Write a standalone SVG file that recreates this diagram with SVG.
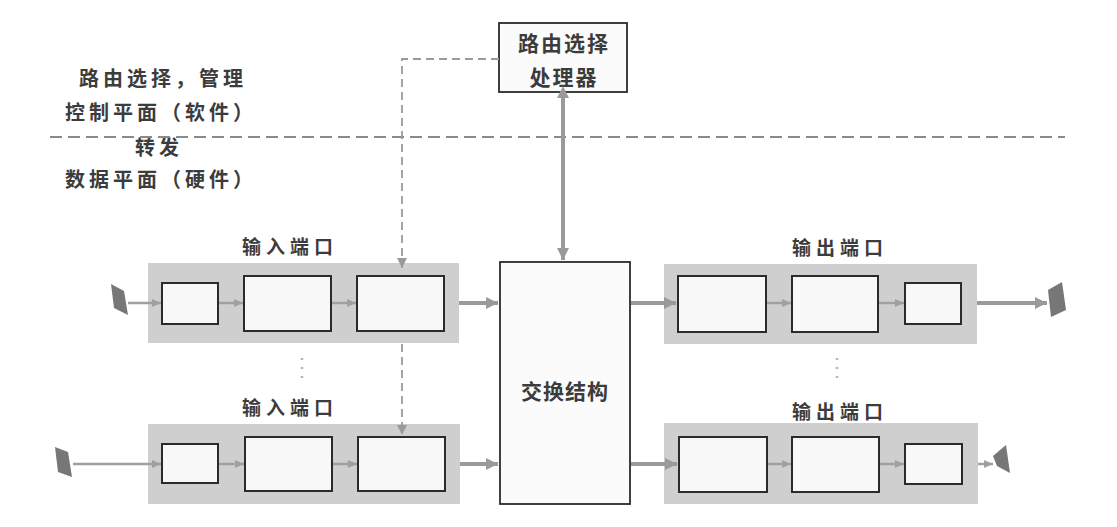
<svg xmlns="http://www.w3.org/2000/svg" width="1117" height="527" viewBox="0 0 1117 527">
<style>
.bg{fill:#ffffff}
.band{fill:#cfcfcf}
.box{fill:#f8f8f8;stroke:#2b2b2b;stroke-width:2}
.frame{fill:#fbfbfb;stroke:#2b2b2b;stroke-width:1.8}
.plug{fill:#777777}
.t{font-family:"Noto Sans CJK SC","Noto Sans",sans-serif;font-weight:bold;fill:#3c3c3c;text-anchor:middle}
.lbl{font-size:19px;letter-spacing:5px}
.side{font-size:20px;letter-spacing:4px}
.thick{stroke:#9a9a9a;stroke-width:4;fill:none}
.thin{stroke:#a0a0a0;stroke-width:2.5;fill:none}
.dash{stroke:#9a9a9a;stroke-width:1.8;fill:none;stroke-dasharray:8 5}
.divider{stroke:#8a8a8a;stroke-width:2.2;fill:none;stroke-dasharray:12 6}
.dots{stroke:#b5b5b5;stroke-width:2.5;fill:none;stroke-dasharray:2 7}
</style>
<defs>
<marker id="ah" markerUnits="userSpaceOnUse" markerWidth="14" markerHeight="14" refX="12" refY="7" orient="auto">
<path d="M0,1 L12,7 L0,13 z" fill="#9a9a9a"/>
</marker>
<marker id="ahs" markerUnits="userSpaceOnUse" markerWidth="10" markerHeight="10" refX="9" refY="5" orient="auto">
<path d="M0,1 L9,5 L0,9 z" fill="#a0a0a0"/>
</marker>
<marker id="ahd" markerUnits="userSpaceOnUse" markerWidth="12" markerHeight="12" refX="10" refY="6" orient="auto">
<path d="M0,1 L10,6 L0,11 z" fill="#9a9a9a"/>
</marker>
<marker id="ahb" markerUnits="userSpaceOnUse" markerWidth="14" markerHeight="14" refX="2" refY="7" orient="auto-start-reverse">
<path d="M0,1 L12,7 L0,13 z" fill="#9a9a9a"/>
</marker>
</defs>
<rect class="bg" x="0" y="0" width="1117" height="527"/>

<g id="plane-labels">
<text class="t side" x="163" y="86">路由选择，管理</text>
<text class="t side" x="161" y="120">控制平面（软件）</text>
<text class="t side" x="159" y="155">转发</text>
<text class="t side" x="161" y="187">数据平面（硬件）</text>
</g>

<g id="route-processor">
<rect class="frame" x="499" y="23" width="128" height="69"/>
<text class="t" x="564" y="51" font-size="21" letter-spacing="2">路由选择</text>
<text class="t" x="564" y="85" font-size="21" letter-spacing="2">处理器</text>
</g>

<g id="switch-fabric">
<rect class="frame" x="500" y="262" width="130" height="242"/>
<text class="t" x="565" y="399" font-size="21" letter-spacing="1">交换结构</text>
</g>

<g id="input-port-1">
<text class="t lbl" x="290" y="254">输入端口</text>
<polygon class="plug" points="111,284 124,291 128,315 114,308"/>
<rect class="band" x="148" y="263" width="311" height="80"/>
<rect class="box" x="162" y="283" width="56" height="41"/>
<rect class="box" x="244" y="276" width="87" height="55"/>
<rect class="box" x="357" y="276" width="87" height="55"/>
</g>

<g id="input-port-2">
<text class="t lbl" x="290" y="415">输入端口</text>
<polygon class="plug" points="55,447 68,452 72,477 58,472"/>
<rect class="band" x="148" y="424" width="312" height="80"/>
<rect class="box" x="162" y="444" width="56" height="39"/>
<rect class="box" x="245" y="437" width="87" height="54"/>
<rect class="box" x="358" y="437" width="87" height="54"/>
</g>

<g id="output-port-1">
<text class="t lbl" x="840" y="255">输出端口</text>
<rect class="band" x="664" y="264" width="313" height="80"/>
<rect class="box" x="678" y="276" width="88" height="56"/>
<rect class="box" x="792" y="276" width="86" height="56"/>
<rect class="box" x="905" y="283" width="56" height="41"/>
<polygon class="plug" points="1048,290 1062,282 1066,310 1051,317"/>
</g>

<g id="output-port-2">
<text class="t lbl" x="840" y="419">输出端口</text>
<rect class="band" x="664" y="423" width="314" height="81"/>
<rect class="box" x="679" y="437" width="88" height="55"/>
<rect class="box" x="792" y="437" width="87" height="55"/>
<rect class="box" x="905" y="444" width="57" height="40"/>
<polygon class="plug" points="993,456 1006,445 1010,473 997,466"/>
</g>

<g id="connectors">
<line class="divider" x1="50" y1="137" x2="1065" y2="137"/>
<path class="dash" d="M499,59 H402 V268" marker-end="url(#ahd)"/>
<path class="dash" d="M402,344 V435" marker-end="url(#ahd)"/>
<line class="thick" x1="563" y1="96" x2="563" y2="260" marker-start="url(#ahb)" marker-end="url(#ah)"/>
<line class="thin" x1="128" y1="303" x2="161" y2="303" marker-end="url(#ahs)"/>
<line class="thin" x1="219" y1="303" x2="243" y2="303" marker-end="url(#ahs)"/>
<line class="thin" x1="332" y1="303" x2="356" y2="303" marker-end="url(#ahs)"/>
<line class="thick" x1="459" y1="303" x2="498" y2="303" marker-end="url(#ah)"/>
<line class="thin" x1="73" y1="464" x2="161" y2="464" marker-end="url(#ahs)"/>
<line class="thin" x1="219" y1="464" x2="244" y2="464" marker-end="url(#ahs)"/>
<line class="thin" x1="333" y1="464" x2="357" y2="464" marker-end="url(#ahs)"/>
<line class="thick" x1="460" y1="464" x2="498" y2="464" marker-end="url(#ah)"/>
<line class="thick" x1="631" y1="303" x2="676" y2="303" marker-end="url(#ah)"/>
<line class="thin" x1="767" y1="303" x2="791" y2="303" marker-end="url(#ahs)"/>
<line class="thin" x1="879" y1="303" x2="904" y2="303" marker-end="url(#ahs)"/>
<line class="thick" x1="977" y1="303" x2="1047" y2="303" marker-end="url(#ah)"/>
<line class="thick" x1="631" y1="464" x2="677" y2="464" marker-end="url(#ah)"/>
<line class="thin" x1="768" y1="464" x2="791" y2="464" marker-end="url(#ahs)"/>
<line class="thin" x1="880" y1="464" x2="904" y2="464" marker-end="url(#ahs)"/>
<line class="thin" x1="978" y1="464" x2="993" y2="464" marker-end="url(#ahs)"/>
<line class="dots" x1="302" y1="358" x2="302" y2="385"/>
<line class="dots" x1="837" y1="358" x2="837" y2="385"/>
</g>
</svg>
